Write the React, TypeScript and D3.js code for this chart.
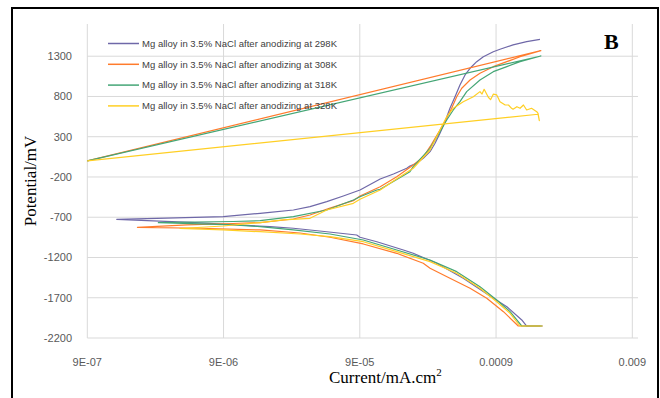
import * as d3 from 'd3';

// x: current density (mA/cm2), y: potential (mV), in the order Excel joined the points
const i298 = [1.89e-3, 1.51e-3, 1.2e-3, 9.62e-4, 8.59e-4, 7.26e-4, 6.49e-4, 5.8e-4, 5.33e-4, 4.89e-4, 4.5e-4, 4.13e-4, 3.8e-4, 3.49e-4, 3.21e-4, 2.95e-4, 2.63e-4, 2.35e-4, 2.1e-4, 1.99e-4, 1.59e-4, 1.27e-4, 9.03e-5, 6.81e-5, 5.15e-5, 3.88e-5, 2.93e-5, 1.97e-5, 1.67e-5, 8.96e-6, 2.91e-6, 1.48e-6, 5.11e-6, 1.97e-5, 2.93e-5, 5.15e-5, 8.54e-5, 9.03e-5, 1.2e-4, 1.88e-4, 2.22e-4, 3.3e-4, 5.17e-4, 8.13e-4, 1.08e-3, 1.39e-3, 1.51e-3, 1.98e-3];
const e298 = [1510, 1481, 1440, 1386, 1356, 1294, 1232, 1150, 1067, 943, 797, 653, 487, 343, 219, 114, 32, -30, -63, -92, -163, -225, -362, -436, -507, -569, -610, -639, -651, -693, -713, -726, -763, -817, -837, -880, -921, -949, -1004, -1107, -1148, -1272, -1458, -1678, -1811, -1976, -2051, -2051];

const i308 = [9e-7, 1.92e-3, 1.35e-3, 1.08e-3, 8.59e-4, 6.86e-4, 5.8e-4, 5.04e-4, 4.63e-4, 4.25e-4, 3.91e-4, 3.49e-4, 2.95e-4, 2.63e-4, 2.22e-4, 1.68e-4, 1.27e-4, 9.03e-5, 8.07e-5, 5.44e-5, 3.88e-5, 2.93e-5, 1.67e-5, 1.06e-5, 4.86e-6, 2.1e-6, 6.04e-6, 1.67e-5, 3.28e-5, 5.44e-5, 9.55e-5, 1.68e-4, 2.63e-4, 2.95e-4, 4.13e-4, 5.8e-4, 7.69e-4, 1.02e-3, 1.31e-3, 1.9e-3];
const e308 = [0, 1369, 1294, 1232, 1170, 1088, 1005, 902, 797, 653, 529, 384, 176, 48, -51, -196, -321, -436, -494, -585, -672, -722, -766, -778, -796, -825, -837, -858, -896, -949, -1032, -1148, -1272, -1334, -1458, -1583, -1707, -1873, -2051, -2051];

const i318 = [9e-7, 1.92e-3, 1.35e-3, 1.08e-3, 8.59e-4, 6.86e-4, 5.48e-4, 4.89e-4, 4.37e-4, 3.91e-4, 3.49e-4, 2.95e-4, 2.22e-4, 2.1e-4, 1.27e-4, 1.2e-4, 9.03e-5, 8.07e-5, 5.15e-5, 2.93e-5, 1.67e-5, 1.06e-5, 2.99e-6, 1.06e-5, 1.67e-5, 2.93e-5, 5.44e-5, 9.55e-5, 1.68e-4, 2.95e-4, 4.63e-4, 6.86e-4, 9.1e-4, 1.14e-3, 1.39e-3, 1.95e-3];
const e318 = [0, 1303, 1232, 1170, 1108, 1005, 860, 735, 632, 508, 363, 156, -72, -134, -353, -362, -445, -486, -610, -693, -743, -753, -768, -796, -817, -858, -908, -983, -1107, -1231, -1376, -1563, -1728, -1873, -2051, -2051];

const i328 = [9e-7, 1.83e-3, 1.87e-3, 1.83e-3, 1.79e-3, 1.64e-3, 1.51e-3, 1.43e-3, 1.35e-3, 1.28e-3, 1.2e-3, 1.17e-3, 1.11e-3, 1.05e-3, 9.62e-4, 9.36e-4, 9.1e-4, 8.59e-4, 8.2e-4, 7.9e-4, 7.36e-4, 7.1e-4, 6.86e-4, 6.13e-4, 5.17e-4, 4.37e-4, 3.91e-4, 3.49e-4, 2.95e-4, 2.22e-4, 1.59e-4, 1.27e-4, 9.03e-5, 8.07e-5, 5.15e-5, 3.88e-5, 2.46e-5, 1.67e-5, 8.96e-6, 4.31e-6, 8.96e-6, 1.67e-5, 3.28e-5, 5.44e-5, 9.55e-5, 1.68e-4, 2.95e-4, 4.63e-4, 6.86e-4, 9.1e-4, 1.14e-3, 1.35e-3, 1.98e-3];
const e328 = [0, 579, 499, 590, 611, 653, 632, 694, 653, 673, 641, 653, 694, 694, 735, 778, 819, 828, 760, 790, 889, 830, 860, 797, 735, 653, 549, 384, 135, -92, -250, -362, -477, -527, -610, -713, -734, -766, -809, -840, -858, -880, -908, -941, -1004, -1128, -1252, -1396, -1583, -1749, -1893, -2051, -2051];

const seriesNames = [
  'Mg alloy in 3.5% NaCl after anodizing at 298K',
  'Mg alloy in 3.5% NaCl after anodizing at 308K',
  'Mg alloy in 3.5% NaCl after anodizing at 318K',
  'Mg alloy in 3.5% NaCl after anodizing at 328K',
];
const seriesColors = ['#6f68a8', '#ff7b2c', '#45a676', '#ffcf24'];

const xTicks = [9e-7, 9e-6, 9e-5, 9e-4, 9e-3];
const xTickLabels = ['9E-07', '9E-06', '9E-05', '0.0009', '0.009'];
const yTicks = [-2200, -1700, -1200, -700, -200, 300, 800, 1300];

export default function App() {
  const left = 87.3;
  const right = 632.3;
  const plotRight = 638;
  const top = 24;
  const bottom = 338;

  const x = d3.scaleLog().domain([9e-7, 9e-3]).range([left, right]);
  const y = d3.scaleLinear().domain([-2200, 1700]).range([bottom, top]);

  const series = [
    { i: i298, e: e298 },
    { i: i308, e: e308 },
    { i: i318, e: e318 },
    { i: i328, e: e328 },
  ];

  const line = d3
    .line<[number, number]>()
    .x((d) => x(d[0]))
    .y((d) => y(d[1]));

  const tickFont = '"Liberation Sans", Arial, sans-serif';
  const serif = '"Liberation Serif", "Times New Roman", serif';

  return (
    <svg
      width={660}
      height={398}
      style={{ position: 'absolute', left: 0, top: 0, background: '#fff' }}
    >
      {/* frame */}
      <rect x={12} y={8} width={646} height={400} fill="#fff" stroke="#000" strokeWidth={2} />

      {/* grid */}
      {yTicks.map((t) => (
        <line key={'gy' + t} x1={left} x2={plotRight} y1={y(t)} y2={y(t)} stroke="#d9d9d9" strokeWidth={1} />
      ))}
      {xTicks.map((t) => (
        <line key={'gx' + t} x1={x(t)} x2={x(t)} y1={top} y2={bottom} stroke="#d9d9d9" strokeWidth={1} />
      ))}

      {/* tick labels */}
      {yTicks.map((t) => (
        <text key={'ty' + t} x={72} y={y(t) + 4} textAnchor="end" fontFamily={tickFont} fontSize={11} fill="#595959">
          {t}
        </text>
      ))}
      {xTicks.map((t, k) => (
        <text key={'tx' + t} x={x(t)} y={366} textAnchor="middle" fontFamily={tickFont} fontSize={11} fill="#595959">
          {xTickLabels[k]}
        </text>
      ))}

      {/* series */}
      <g fill="none" strokeWidth={1.2} strokeLinejoin="round">
        {series.map((s, k) => (
          <path
            key={k}
            d={line(s.i.map((v, j) => [v, s.e[j]] as [number, number])) || ''}
            stroke={seriesColors[k]}
          />
        ))}
      </g>

      {/* legend */}
      {seriesNames.map((name, k) => {
        const ly = 43.5 + k * 20.8;
        return (
          <g key={name}>
            <line x1={108} x2={139} y1={ly} y2={ly} stroke={seriesColors[k]} strokeWidth={1.5} />
            <text
              x={142}
              y={ly + 3.2}
              fontFamily={tickFont}
              fontSize={9.5}
              fill="#404040"
              textLength={195}
              lengthAdjust="spacing"
            >
              {name}
            </text>
          </g>
        );
      })}

      {/* panel letter */}
      <text x={604} y={49} fontFamily={serif} fontWeight="bold" fontSize={22} fill="#000">
        B
      </text>

      {/* axis titles */}
      <text
        transform="translate(36,181) rotate(-90)"
        textAnchor="middle"
        fontFamily={serif}
        fontSize={17}
        fill="#000"
      >
        Potential/mV
      </text>
      <text x={329} y={383} fontFamily={serif} fontSize={17} fill="#000">
        Current/mA.cm<tspan dy={-7} fontSize={11}>2</tspan>
      </text>
    </svg>
  );
}
